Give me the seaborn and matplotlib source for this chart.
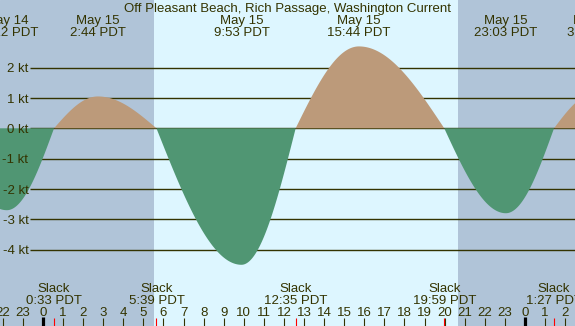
import matplotlib
matplotlib.use("Agg")
import matplotlib.pyplot as plt
import matplotlib.transforms as mtransforms
import seaborn as sns
import numpy as np
import pandas as pd

# tide events (day offset from May 15, local time, speed in knots)
max_days = [-1, 0, 0, 0, 0, 1]
max_dates = ["May 14", "May 15", "May 15", "May 15", "May 15", "May 16"]
max_times = ["22:12", "2:44", "9:53", "15:44", "23:03", "3:30"]
max_speeds = [-2.7, 1.05, -4.5, 2.7, -2.8, 1.15]

slack_days = [-1, 0, 0, 0, 0, 1, 1]
slack_times = ["19:05", "0:33", "5:39", "12:35", "19:59", "1:27", "6:05"]

sunrise = "5:32"
sunset = "20:40"

kt_levels = [2, 1, 0, -1, -2, -3, -4]
hour_range = list(range(-2, 27))

title = "Off Pleasant Beach, Rich Passage, Washington Current"

night_col = "#b0c4d8"
day_col = "#ddf6ff"
flood_col = "#bc9a7a"
ebb_col = "#509673"
ink = "#333300"


def to_hours(day, t):
    h, m = t.split(":")
    return day * 24 + int(h) + int(m) / 60


max_h = [to_hours(d, t) for d, t in zip(max_days, max_times)]
slack_h = [to_hours(d, t) for d, t in zip(slack_days, slack_times)]

events = pd.DataFrame({
    "hour": max_h + slack_h,
    "speed": max_speeds + [0.0] * len(slack_h),
}).sort_values("hour").reset_index(drop=True)

# quarter-sine shape between each slack and maximum
xs, ys = [], []
for i in range(len(events) - 1):
    t0, v0 = events.loc[i, "hour"], events.loc[i, "speed"]
    t1, v1 = events.loc[i + 1, "hour"], events.loc[i + 1, "speed"]
    s = np.linspace(0, 1, 80)
    t = t0 + (t1 - t0) * s
    if v0 == 0:
        y = v1 * np.sin(np.pi / 2 * s)
    else:
        y = v0 * np.cos(np.pi / 2 * s)
    xs.append(t)
    ys.append(y)
curve = pd.DataFrame({"hour": np.concatenate(xs), "speed": np.concatenate(ys)})

sns.set_style("white")
plt.rcParams["font.family"] = ["Liberation Sans", "DejaVu Sans"]
fs = 9.5

W, H = 575, 326
fig = plt.figure(figsize=(W / 100, H / 100), dpi=100)
ax = fig.add_axes([0, 0, 1, 1])
ax.set_facecolor(night_col)

px_hr = 20.08
x0 = 43
px_kt = 30.33
y0 = 128.3
ax.set_xlim(-x0 / px_hr, (W - x0) / px_hr)
ax.set_ylim(-(H - y0) / px_kt, y0 / px_kt)
ax.set_axis_off()
ax.add_patch(plt.Rectangle((0, 0), 1, 1, transform=ax.transAxes,
                           color=night_col, zorder=-2))

ax.axvspan(to_hours(0, sunrise), to_hours(0, sunset), color=day_col, lw=0, zorder=0)

ax.hlines(kt_levels, (30 - x0) / px_hr, 30, color=ink, lw=1.0, zorder=1)

ax.fill_between(curve["hour"], 0, curve["speed"], where=curve["speed"] >= 0,
                color=flood_col, lw=0, zorder=2, interpolate=True)
ax.fill_between(curve["hour"], 0, curve["speed"], where=curve["speed"] <= 0,
                color=ebb_col, lw=0, zorder=2, interpolate=True)
sns.lineplot(data=curve, x="hour", y="speed", ax=ax, lw=0, legend=False)

trans = mtransforms.blended_transform_factory(ax.transData, ax.transAxes)


def fy(p):
    return 1 - p / H


# y labels
for k in kt_levels:
    ax.text((28.5 - x0) / px_hr, k - 4.6 / px_kt, f"{k} kt", ha="right",
            va="baseline", fontsize=fs, color=ink, zorder=5)

# title and maxima labels
ax.text(0.5, fy(12), title, transform=ax.transAxes, ha="center",
        va="baseline", fontsize=fs, color=ink, zorder=5)
for h, d, t in zip(max_h, max_dates, max_times):
    ax.text(h, fy(24), d, transform=trans, ha="center", va="baseline",
            fontsize=fs, color=ink, zorder=5)
    ax.text(h, fy(36), f"{t} PDT", transform=trans, ha="center",
            va="baseline", fontsize=fs, color=ink, zorder=5)

# slack labels
for h, t in zip(slack_h, slack_times):
    ax.text(h, fy(292), "Slack", transform=trans, ha="center",
            va="baseline", fontsize=fs, color=ink, zorder=5)
    ax.text(h, fy(304), f"{t} PDT", transform=trans, ha="center",
            va="baseline", fontsize=fs, color=ink, zorder=5)

# hour ticks
for h in hour_range:
    ax.text(h, fy(316), str(h % 24), transform=trans, ha="center",
            va="baseline", fontsize=fs, color=ink, zorder=5)
    if h % 24 == 0:
        ax.vlines(h, 0, fy(317), transform=trans, color="black", lw=2.3, zorder=5)
    else:
        ax.vlines(h, 0, fy(318), transform=trans, color=ink, lw=0.8, zorder=5)
ax.vlines(slack_h, 0, fy(318), transform=trans, color="red", lw=0.8, zorder=6)

fig.savefig("out.png", dpi=100)
